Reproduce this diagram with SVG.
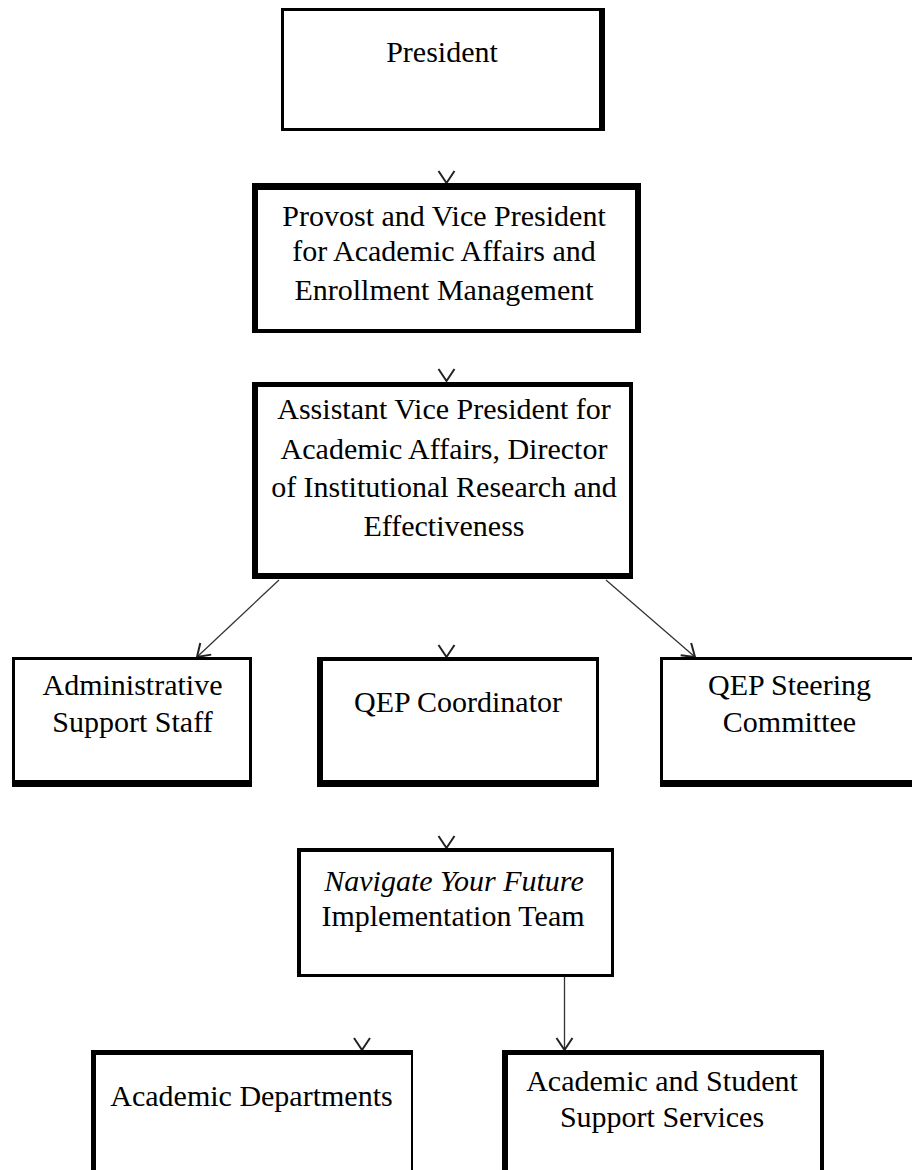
<svg xmlns="http://www.w3.org/2000/svg" width="912" height="1170" viewBox="0 0 912 1170">
<style>
.o{fill:#000}
.i{fill:#fff}
.t{font-family:"Liberation Serif","Times New Roman",serif;font-size:30px;fill:#000;text-anchor:middle}
.it{font-style:italic}
.c{fill:none;stroke:#333;stroke-width:1.3}
</style>
<defs>
<marker id="ah" markerUnits="userSpaceOnUse" markerWidth="24" markerHeight="24" viewBox="-14 -12 16 24" refX="0" refY="0" orient="auto">
<path d="M-12,-8 L0,0 L-12,8" fill="none" stroke="#222" stroke-width="2"/>
</marker>
</defs>
<rect width="912" height="1170" fill="#fff"/>
<g id="connectors">
<path class="c" d="M446.5,181 L446.5,183" marker-end="url(#ah)"/>
<path class="c" d="M446.5,379 L446.5,381" marker-end="url(#ah)"/>
<path class="c" d="M279,580 L197,657" marker-end="url(#ah)"/>
<path class="c" d="M446.5,655 L446.5,657" marker-end="url(#ah)"/>
<path class="c" d="M606,580 L695,657" marker-end="url(#ah)"/>
<path class="c" d="M446.5,846 L446.5,848" marker-end="url(#ah)"/>
<path class="c" d="M362,1048 L362,1050" marker-end="url(#ah)"/>
<path class="c" d="M564.5,977 L564.5,1050" marker-end="url(#ah)"/>
</g>
<g id="president">
<rect class="o" x="281" y="8" width="324" height="123"/>
<rect class="i" x="284" y="11" width="315" height="117"/>
<text class="t" x="442" y="62">President</text>
</g>
<g id="provost">
<rect class="o" x="252" y="183" width="389" height="150"/>
<rect class="i" x="258" y="190" width="377" height="139"/>
<text class="t" x="444" y="225.5">Provost and Vice President</text>
<text class="t" x="444" y="261">for Academic Affairs and</text>
<text class="t" x="444" y="299.5">Enrollment Management</text>
</g>
<g id="avp">
<rect class="o" x="252" y="382" width="381" height="197"/>
<rect class="i" x="258" y="387" width="371" height="186"/>
<text class="t" x="444" y="419">Assistant Vice President for</text>
<text class="t" x="444" y="459">Academic Affairs, Director</text>
<text class="t" x="444" y="497">of Institutional Research and</text>
<text class="t" x="444" y="536">Effectiveness</text>
</g>
<g id="admin">
<rect class="o" x="12" y="657" width="240" height="130"/>
<rect class="i" x="15" y="660" width="234" height="120"/>
<text class="t" x="132.5" y="694.5">Administrative</text>
<text class="t" x="132.5" y="731.5">Support Staff</text>
</g>
<g id="qep-coordinator">
<rect class="o" x="317" y="657" width="282" height="130"/>
<rect class="i" x="323" y="661" width="273" height="119"/>
<text class="t" x="458" y="712">QEP Coordinator</text>
</g>
<g id="qep-steering">
<rect class="o" x="660" y="657" width="260" height="130"/>
<rect class="i" x="663" y="660" width="254" height="120"/>
<text class="t" x="789.5" y="694.5">QEP Steering</text>
<text class="t" x="789.5" y="731.5">Committee</text>
</g>
<g id="navigate">
<rect class="o" x="297" y="848" width="317" height="129"/>
<rect class="i" x="301" y="852" width="310" height="122"/>
<text class="t it" x="454" y="890.5">Navigate Your Future</text>
<text class="t" x="453" y="926">Implementation Team</text>
</g>
<g id="academic-departments">
<rect class="o" x="91" y="1050" width="322" height="130"/>
<rect class="i" x="96" y="1055" width="315" height="130"/>
<text class="t" x="251.5" y="1106">Academic Departments</text>
</g>
<g id="academic-student-support">
<rect class="o" x="502" y="1050" width="322" height="130"/>
<rect class="i" x="508" y="1055" width="312" height="130"/>
<text class="t" x="662" y="1091">Academic and Student</text>
<text class="t" x="662" y="1127">Support Services</text>
</g>
</svg>
